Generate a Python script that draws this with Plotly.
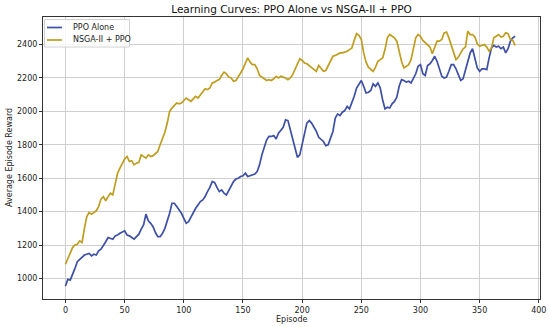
import plotly.graph_objects as go

episodes = list(range(0, 382, 2))

ppo_alone = [
    955, 995, 990, 1020, 1060, 1100, 1115, 1130, 1140, 1145,
    1150, 1135, 1145, 1140, 1165, 1175, 1195, 1220, 1245, 1240,
    1235, 1255, 1260, 1270, 1280, 1285, 1260, 1255, 1245, 1235,
    1250, 1265, 1295, 1320, 1385, 1345, 1330, 1310, 1275, 1250,
    1250, 1270, 1300, 1340, 1390, 1450, 1450, 1430, 1410, 1390,
    1360, 1330, 1340, 1370, 1400, 1420, 1440, 1460, 1470, 1490,
    1520, 1545, 1580, 1575, 1545, 1520, 1530, 1510, 1500, 1525,
    1550, 1580, 1595, 1600, 1610, 1615, 1630, 1610, 1615, 1620,
    1625, 1640, 1680, 1740, 1790, 1830, 1850, 1850, 1855, 1835,
    1870, 1890, 1905, 1950, 1945, 1890, 1830, 1780, 1725, 1740,
    1800, 1860, 1930, 1945, 1930, 1905, 1880, 1845, 1835, 1820,
    1795, 1800, 1840, 1880, 1960, 1985, 1975, 1995, 2005, 2030,
    2015, 2050, 2090, 2140, 2160, 2185, 2150, 2110, 2115, 2125,
    2165, 2150, 2170, 2140, 2070, 2015, 2025, 2020, 2045, 2060,
    2085, 2150, 2190, 2185, 2175, 2180, 2170, 2200, 2225, 2270,
    2280, 2225, 2215, 2275, 2285, 2305, 2330, 2300, 2255, 2210,
    2200, 2205, 2240, 2280, 2280, 2255, 2220, 2185, 2195, 2250,
    2310, 2350, 2375, 2310, 2260, 2240, 2255, 2255, 2250, 2320,
    2380, 2395, 2385, 2390, 2375, 2385, 2350, 2375, 2420, 2440,
    2450,
]

nsga_ppo = [
    1085, 1120, 1160, 1185, 1200, 1205, 1225, 1215, 1300, 1370,
    1395, 1385, 1395, 1405, 1430, 1475, 1490, 1465, 1490, 1510,
    1500, 1570, 1630, 1660, 1690, 1715, 1730, 1700, 1705, 1680,
    1690, 1695, 1740, 1730, 1720, 1740, 1730, 1735, 1750, 1760,
    1800, 1840, 1875, 1930, 2000, 2020, 2035, 2050, 2045, 2050,
    2065, 2080, 2070, 2060, 2075, 2090, 2080, 2100, 2115, 2135,
    2130, 2140, 2170, 2175, 2185, 2190, 2215, 2235, 2225, 2205,
    2200, 2180, 2185, 2205, 2230, 2255, 2290, 2320, 2295, 2280,
    2280, 2255, 2215, 2205, 2200, 2185, 2190, 2185, 2195, 2210,
    2200, 2210, 2205, 2200, 2190, 2200, 2220, 2250, 2285, 2315,
    2305, 2290, 2285, 2275, 2260, 2255, 2240, 2275, 2260, 2240,
    2245, 2275, 2305, 2330, 2335, 2345, 2350, 2350, 2355, 2360,
    2370, 2380, 2425, 2465, 2455, 2430, 2350, 2295, 2265, 2250,
    2240, 2265, 2300, 2310, 2320, 2370, 2440, 2460, 2450, 2440,
    2420, 2360, 2300, 2260, 2270, 2280, 2310, 2370, 2440, 2460,
    2450, 2425, 2410, 2400, 2385, 2345, 2385, 2420, 2420, 2430,
    2470, 2475, 2440, 2400, 2360, 2310, 2325, 2355, 2375, 2385,
    2480, 2460, 2460, 2445, 2405, 2390, 2395, 2400, 2385, 2360,
    2380, 2440, 2450, 2460, 2445, 2450, 2470, 2465, 2430, 2425,
    2395,
]

series_names = ["PPO Alone", "NSGA-II + PPO"]
series_colors = ["#3d4fa6", "#bf9d1e"]
y_ticks = [1000, 1200, 1400, 1600, 1800, 2000, 2200, 2400]
x_ticks = [0, 50, 100, 150, 200, 250, 300, 350, 400]

font_family = "DejaVu Sans"

W, H = 550, 327
L, R, T, B = 43, 10, 17, 28
PW, PH = W - L - R, H - T - B


def px_x(px):
    return (px - L) / PW


def px_y(py):
    return (H - B - py) / PH


fig = go.Figure()
for name, vals, col in zip(series_names, [ppo_alone, nsga_ppo], series_colors):
    fig.add_trace(go.Scatter(
        x=episodes, y=vals, mode="lines", name=name,
        line=dict(color=col, width=1.7), showlegend=False,
    ))

axis_common = dict(
    showgrid=True, gridcolor="#cfcfcf", gridwidth=1,
    showline=True, linecolor="#333333", linewidth=1, mirror=True,
    ticks="outside", ticklen=3, tickcolor="#333333", tickwidth=1,
    tickfont=dict(family=font_family, size=8, color="#222222"),
    zeroline=False, automargin=False,
)

shapes = [
    dict(type="rect", xref="paper", yref="paper",
         x0=px_x(44.5), x1=px_x(129.5), y0=px_y(47), y1=px_y(19.5),
         line=dict(color="#d0d0d0", width=1), fillcolor="rgba(255,255,255,0.85)",
         layer="above"),
]
annotations = []
legend_rows = [27.5, 40]
for name, col, ry in zip(series_names, series_colors, legend_rows):
    shapes.append(dict(type="line", xref="paper", yref="paper",
                       x0=px_x(47), x1=px_x(62), y0=px_y(ry), y1=px_y(ry),
                       line=dict(color=col, width=1.7), layer="above"))
    annotations.append(dict(text=name, xref="paper", yref="paper",
                            x=px_x(71), y=px_y(ry), xanchor="left", yanchor="middle",
                            showarrow=False,
                            font=dict(family=font_family, size=8, color="#222222")))

annotations.append(dict(text="Episode", xref="paper", yref="paper",
                        x=0.5, y=px_y(319.5), xanchor="center", yanchor="middle",
                        showarrow=False,
                        font=dict(family=font_family, size=8, color="#222222")))
annotations.append(dict(text="Average Episode Reward", xref="paper", yref="paper",
                        x=px_x(9), y=0.5, xanchor="center", yanchor="middle",
                        textangle=-90, showarrow=False,
                        font=dict(family=font_family, size=8, color="#222222")))

fig.update_layout(
    width=W, height=H,
    margin=dict(l=L, r=R, t=T, b=B),
    paper_bgcolor="white", plot_bgcolor="white",
    font=dict(family=font_family, color="#222222"),
    title=dict(
        text="Learning Curves: PPO Alone vs NSGA-II + PPO",
        x=0.5, xref="paper", xanchor="center",
        y=1 - 9.5 / H, yref="container", yanchor="middle",
        font=dict(family=font_family, size=10.5, color="#111111"),
    ),
    xaxis=dict(range=[-19, 401], tickvals=x_ticks, **axis_common),
    yaxis=dict(range=[877, 2565], tickvals=y_ticks, **axis_common),
    shapes=shapes,
    annotations=annotations,
    showlegend=False,
    hovermode=False,
)

fig.write_html("out.html", config={"displayModeBar": False, "staticPlot": True})

# remove the browser's default page margin so the figure sits at the top-left corner
with open("out.html", "r", encoding="utf-8") as fh:
    page = fh.read()
page = page.replace(
    "<head>",
    "<head><style>html,body{margin:0;padding:0;overflow:hidden;background:#fff}</style>",
    1,
)
with open("out.html", "w", encoding="utf-8") as fh:
    fh.write(page)
